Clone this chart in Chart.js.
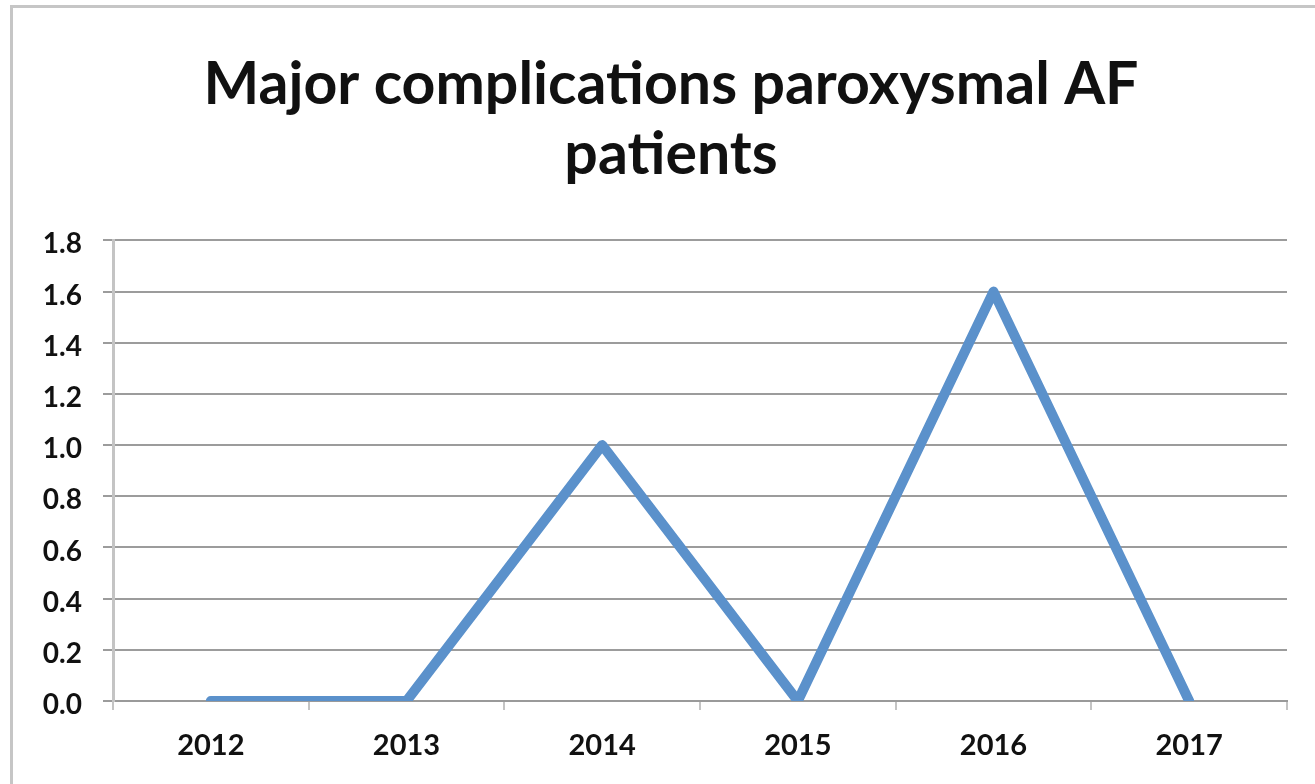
<!DOCTYPE html>
<html>
<head>
<meta charset="utf-8">
<script src="https://cdn.jsdelivr.net/npm/chart.js@4"></script>
<style>
  html, body { margin: 0; padding: 0; background: #fff; width: 1315px; height: 784px; overflow: hidden; }
  #frame {
    position: absolute; left: 10px; top: 5px; width: 1330px; height: 777px;
    border-left: 3px solid #c6c6c6; border-top: 3px solid #c6c6c6; border-bottom: 1px solid #ececec;
    overflow: hidden; background: #fff;
  }
  #wrap { position: absolute; left: 0; top: 0; width: 1316px; height: 777px; }
</style>
</head>
<body>
<div id="frame"><div id="wrap"><canvas id="c"></canvas></div></div>
<script>
const titleLines = ["Major complications paroxysmal AF", "patients"];
const categories = ["2012", "2013", "2014", "2015", "2016", "2017"];
const seriesValues = [0, 0, 1.0, 0, 1.6, 0];
const yMin = 0, yMax = 1.8, yStep = 0.2;

const FONT = "Lato, 'Open Sans', sans-serif";

new Chart(document.getElementById('c'), {
  type: 'line',
  data: {
    labels: categories,
    datasets: [{
      label: 'Major complications',
      data: seriesValues,
      borderColor: '#5b91cb',
      backgroundColor: '#5b91cb',
      borderWidth: 10,
      pointRadius: 0,
      pointHoverRadius: 0,
      tension: 0,
      borderJoinStyle: 'round',
      borderCapStyle: 'round',
      clip: { left: 6, right: 6, top: 6, bottom: 0 }
    }]
  },
  options: {
    responsive: true,
    maintainAspectRatio: false,
    animation: false,
    layout: { padding: 0 },
    plugins: {
      legend: { display: false },
      tooltip: { enabled: false },
      title: {
        display: true,
        text: titleLines,
        color: '#111',
        font: { family: FONT, size: 59, weight: 'bold', lineHeight: 1.19 },
        padding: { top: 42, bottom: 50 }
      }
    },
    scales: {
      x: {
        type: 'category',
        offset: true,
        grid: {
          offset: true,
          drawOnChartArea: false,
          drawTicks: true,
          tickLength: 9,
          color: '#c4c4c4',
          lineWidth: 2
        },
        border: { display: true, color: '#9a9a9a', width: 2 },
        ticks: {
          color: '#111',
          font: { family: FONT, size: 29, weight: 'bold' },
          padding: 18,
          maxRotation: 0
        },
        afterFit: (s) => { s.height = 84; }
      },
      y: {
        min: yMin,
        max: yMax,
        grid: {
          color: '#9c9c9c',
          lineWidth: 2,
          tickLength: 10,
          drawTicks: true
        },
        border: { display: true, color: '#c4c4c4', width: 3 },
        ticks: {
          stepSize: yStep,
          color: '#111',
          font: { family: FONT, size: 28, weight: 'bold' },
          padding: 21,
          labelOffset: 4,
          callback: (v) => Number(v).toFixed(1)
        },
        afterFit: (s) => { s.width = 100; }
      },
      yRightSpace: {
        position: 'right',
        display: true,
        grid: { display: false, drawOnChartArea: false },
        border: { display: false },
        ticks: { display: false },
        afterFit: (s) => { s.width = 42; }
      }
    }
  }
});
</script>
</body>
</html>
